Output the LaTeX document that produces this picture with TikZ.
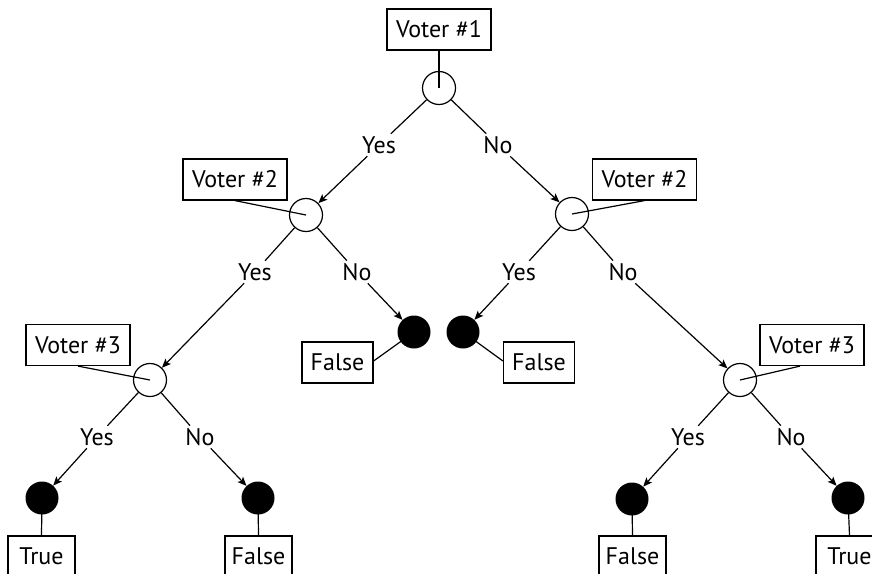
\documentclass[tikz,border=0pt]{standalone}
\usepackage{fontspec}
\setmainfont{PT Sans}
\usetikzlibrary{arrows.meta}
\begin{document}
\begin{tikzpicture}[x=1pt,y=-1pt,
  every node/.style={font=\fontsize{24}{27}\selectfont},
  box/.style={draw,line width=1.2pt,inner xsep=5pt,minimum height=41pt,inner ysep=0pt},
  vbox/.style={box,minimum width=104pt},
  fbox/.style={box,minimum width=71pt},
  bbox/.style={box,minimum width=67pt},
  dec/.style={draw,circle,line width=1.2pt,minimum size=33pt,inner sep=0pt},
  leaf/.style={circle,fill=black,minimum size=33pt,inner sep=0pt},
  lbl/.style={inner sep=2.5pt},
  ln/.style={line width=1.2pt},
  arr/.style={line width=1.2pt,-{Stealth[length=9pt,width=7.5pt,inset=2pt]}}]
\useasboundingbox (0,0) rectangle (872,573);
\clip (0,0) rectangle (872,573);
% decision circles
\node[dec] (c1) at (439,88) {};
\node[dec] (c2L) at (306,215) {};
\node[dec] (c2R) at (572,214) {};
\node[dec] (c3L) at (150,380) {};
\node[dec] (c3R) at (740,380) {};
% leaves
\node[leaf] (m1) at (414,332) {};
\node[leaf] (m2) at (463,332) {};
\node[leaf] (l1) at (42,498) {};
\node[leaf] (l2) at (258,498) {};
\node[leaf] (l3) at (632,499) {};
\node[leaf] (l4) at (848,498) {};
% boxes
\node[vbox] (v1) at (439,29.5) {Voter \#1};
\node[vbox] (v2L) at (235,179.5) {Voter \#2};
\node[vbox] (v2R) at (644.5,179.5) {Voter \#2};
\node[vbox] (v3L) at (78,345) {Voter \#3};
\node[vbox] (v3R) at (812,345) {Voter \#3};
\node[fbox] (fm1) at (337.5,362.5) {False};
\node[fbox] (fm2) at (539,362.5) {False};
\node[bbox] (b1) at (41.5,556.5) {True};
\node[bbox] (b2) at (258.5,556.5) {False};
\node[bbox] (b3) at (632.5,556.5) {False};
\node[bbox] (b4) at (849.5,556.5) {True};
% box-to-circle lines
\draw[ln] (v1.south) -- (c1.center);
\draw[ln] (v2L.south) -- (c2L.center);
\draw[ln] (v2R.south) -- (c2R.center);
\draw[ln] (v3L.south) -- (c3L.center);
\draw[ln] ([xshift=-12pt]v3R.south) -- (c3R.center);
\draw[ln] ([yshift=1.5pt]fm1.east) -- (m1.center);
\draw[ln] ([yshift=1.5pt]fm2.west) -- (m2.center);
\draw[ln] (l1.center) -- (b1.north);
\draw[ln] (l2.center) -- (b2.north);
\draw[ln] (l3.center) -- (b3.north);
\draw[ln] (l4.center) -- (b4.north);
% edge labels
\node[lbl] (y1) at (379,145) {Yes};
\node[lbl] (n1) at (498,145) {No};
\node[lbl] (y2L) at (255,272) {Yes};
\node[lbl] (n2L) at (357,272) {No};
\node[lbl] (y2R) at (519,272) {Yes};
\node[lbl] (n2R) at (623,272) {No};
\node[lbl] (y3L) at (97,437) {Yes};
\node[lbl] (n3L) at (200,437) {No};
\node[lbl] (y3R) at (688,437) {Yes};
\node[lbl] (n3R) at (791,437) {No};
% edges
\draw[ln] (c1) -- (y1); \draw[arr] (y1) -- (c2L);
\draw[ln] (c1) -- (n1); \draw[arr] (n1) -- (c2R);
\draw[ln] (c2L) -- (y2L); \draw[arr] (y2L) -- (c3L);
\draw[ln] (c2L) -- (n2L); \draw[arr] (n2L) -- (m1);
\draw[ln] (c2R) -- (y2R); \draw[arr] (y2R) -- (m2);
\draw[ln] (c2R) -- (n2R); \draw[arr] (n2R) -- (c3R);
\draw[ln] (c3L) -- (y3L); \draw[arr] (y3L) -- (l1);
\draw[ln] (c3L) -- (n3L); \draw[arr] (n3L) -- (l2);
\draw[ln] (c3R) -- (y3R); \draw[arr] (y3R) -- (l3);
\draw[ln] (c3R) -- (n3R); \draw[arr] (n3R) -- (l4);
\end{tikzpicture}
\end{document}
